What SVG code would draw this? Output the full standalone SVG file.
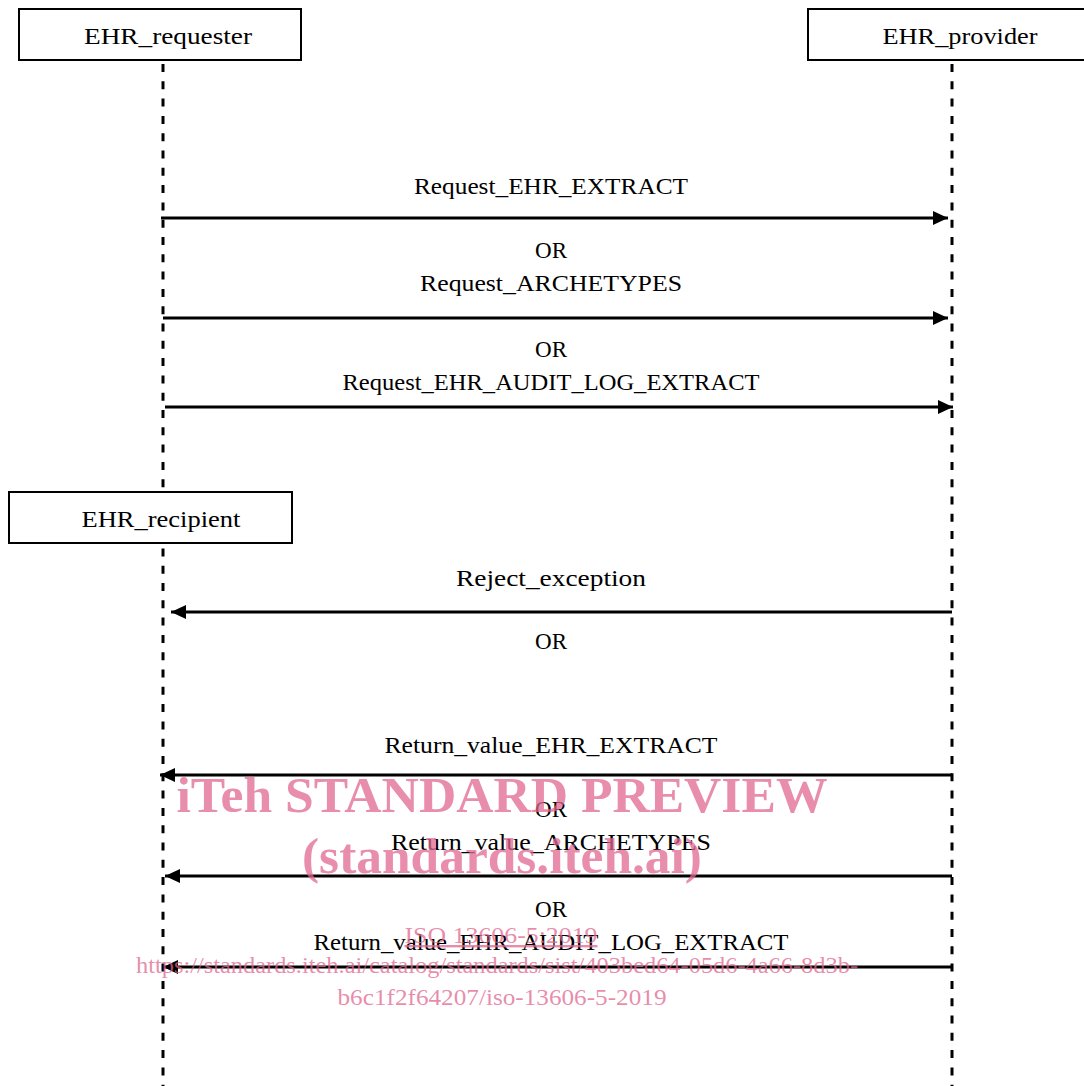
<svg xmlns="http://www.w3.org/2000/svg" width="1084" height="1086" viewBox="0 0 1084 1086">
<style>
.box{fill:#fff;stroke:#000;stroke-width:2}
.life{stroke:#000;stroke-width:3;stroke-dasharray:8 9.3;fill:none}
.msg{stroke:#000;stroke-width:3;fill:none}
.t{font-family:"Liberation Serif","DejaVu Serif",serif;font-size:23px;fill:#000;text-anchor:middle}
.wm{font-family:"Liberation Serif","DejaVu Serif",serif;fill:#e06890;fill-opacity:0.75;text-anchor:middle}
</style>
<defs>
<marker id="ah" markerUnits="userSpaceOnUse" markerWidth="16" markerHeight="16" viewBox="0 0 16 16" refX="15" refY="8" orient="auto">
<path d="M0,1 L15,8 L0,15 Z" fill="#000"/>
</marker>
</defs>
<g id="lifelines">
<line class="life" x1="163" y1="64" x2="163" y2="1086"/>
<line class="life" x1="952" y1="64" x2="952" y2="1086"/>
</g>
<g id="EHR_requester">
<rect class="box" x="19" y="9" width="282" height="51"/>
<text class="t" x="168" y="44" textLength="168" lengthAdjust="spacingAndGlyphs">EHR_requester</text>
</g>
<g id="EHR_provider">
<rect class="box" x="808" y="9" width="290" height="51"/>
<text class="t" x="960" y="44" textLength="155" lengthAdjust="spacingAndGlyphs">EHR_provider</text>
</g>
<g id="EHR_recipient">
<rect class="box" x="9" y="492" width="283" height="51"/>
<text class="t" x="161" y="527" textLength="159" lengthAdjust="spacingAndGlyphs">EHR_recipient</text>
</g>
<g id="connectors">
<line class="msg" x1="161" y1="218" x2="948" y2="218" marker-end="url(#ah)"/>
<line class="msg" x1="163" y1="318" x2="948" y2="318" marker-end="url(#ah)"/>
<line class="msg" x1="165" y1="407" x2="953" y2="407" marker-end="url(#ah)"/>
<line class="msg" x1="952" y1="612" x2="171" y2="612" marker-end="url(#ah)"/>
<line class="msg" x1="952" y1="775" x2="160" y2="775" marker-end="url(#ah)"/>
<line class="msg" x1="952" y1="876" x2="165" y2="876" marker-end="url(#ah)"/>
<line class="msg" x1="952" y1="967" x2="163" y2="967" marker-end="url(#ah)"/>
</g>
<g id="labels">
<text class="t" x="551" y="194" textLength="274" lengthAdjust="spacingAndGlyphs">Request_EHR_EXTRACT</text>
<text class="t" x="551" y="258" textLength="32" lengthAdjust="spacingAndGlyphs">OR</text>
<text class="t" x="551" y="291" textLength="262" lengthAdjust="spacingAndGlyphs">Request_ARCHETYPES</text>
<text class="t" x="551" y="357" textLength="32" lengthAdjust="spacingAndGlyphs">OR</text>
<text class="t" x="551" y="390" textLength="417" lengthAdjust="spacingAndGlyphs">Request_EHR_AUDIT_LOG_EXTRACT</text>
<text class="t" x="551" y="586" textLength="190" lengthAdjust="spacingAndGlyphs">Reject_exception</text>
<text class="t" x="551" y="649" textLength="32" lengthAdjust="spacingAndGlyphs">OR</text>
<text class="t" x="551" y="753" textLength="333" lengthAdjust="spacingAndGlyphs">Return_value_EHR_EXTRACT</text>
<text class="t" x="551" y="817" textLength="32" lengthAdjust="spacingAndGlyphs">OR</text>
<text class="t" x="551" y="850" textLength="320" lengthAdjust="spacingAndGlyphs">Return_value_ARCHETYPES</text>
<text class="t" x="551" y="917" textLength="32" lengthAdjust="spacingAndGlyphs">OR</text>
<text class="t" x="551" y="950" textLength="475" lengthAdjust="spacingAndGlyphs">Return_value_EHR_AUDIT_LOG_EXTRACT</text>
</g>
<g id="watermark">
<text class="wm" x="502" y="812" font-size="50" font-weight="bold" textLength="651" lengthAdjust="spacingAndGlyphs">iTeh STANDARD PREVIEW</text>
<text class="wm" x="502" y="873" font-size="50" font-weight="bold" textLength="400" lengthAdjust="spacingAndGlyphs">(standards.iteh.ai)</text>
<text class="wm" x="501" y="943" font-size="24" text-decoration="underline" textLength="193" lengthAdjust="spacingAndGlyphs">ISO 13606-5:2019</text>
<text class="wm" x="497" y="973" font-size="24" textLength="722" lengthAdjust="spacingAndGlyphs">https://standards.iteh.ai/catalog/standards/sist/403bed64-05d6-4a66-8d3b-</text>
<text class="wm" x="502" y="1005" font-size="24" textLength="329" lengthAdjust="spacingAndGlyphs">b6c1f2f64207/iso-13606-5-2019</text>
</g>
</svg>
